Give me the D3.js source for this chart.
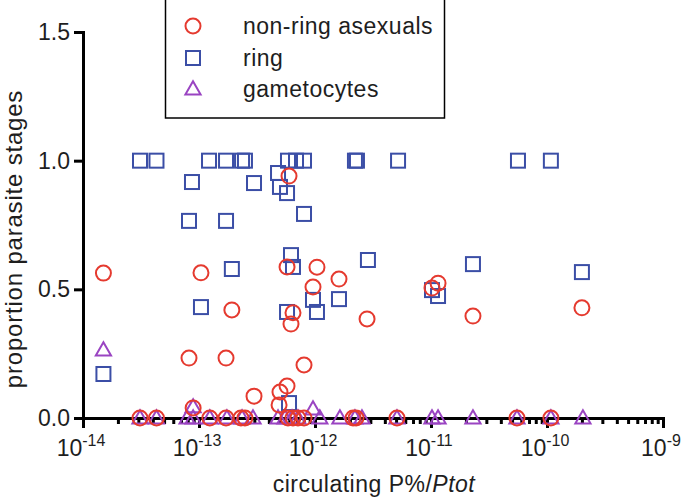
<!DOCTYPE html>
<html>
<head>
<meta charset="utf-8">
<script src="https://cdn.jsdelivr.net/npm/d3@7"></script>
<style>
  body { margin: 0; background: #fff; }
  svg { font-family: "Liberation Sans", Arial, sans-serif; }
</style>
</head>
<body>
<script>
// values (x = circulating P%/Ptot, y = proportion)
const nonRingX = [5.97e-13, 1.5e-14, 1.04e-13, 5.74e-13, 1.04e-12, 1.61e-12, 9.61e-13, 1.92e-13, 6.46e-13, 6.21e-13,
  2.81e-12, 8.2e-14, 1.71e-13, 8.04e-13, 2.98e-13, 5.74e-13, 4.99e-13, 4.9e-13, 8.9e-14, 1.15e-11,
  1.02e-11, 2.3e-11, 2.0e-10,
  3.1e-14, 4.3e-14, 1.24e-13, 1.71e-13, 2.3e-13, 2.49e-13, 5.85e-13, 6.46e-13, 7.13e-13, 8.04e-13,
  2.13e-12, 2.26e-12, 5.09e-12, 5.51e-11, 1.08e-10];
const nonRingY = [0.94, 0.563, 0.564, 0.587, 0.586, 0.54, 0.509, 0.42, 0.409, 0.365,
  0.385, 0.233, 0.233, 0.206, 0.085, 0.124, 0.101, 0.051, 0.039, 0.524,
  0.505, 0.396, 0.428,
  0, 0, 0, 0, 0, 0, 0, 0, 0, 0,
  0, 0, 0, 0, 0];

const ringX = [3.1e-14, 4.3e-14, 1.22e-13, 1.71e-13, 2.35e-13, 2.49e-13, 5.85e-13, 6.86e-13, 8.04e-13, 2.21e-12,
  2.3e-12, 5.2e-12, 5.62e-11, 1.08e-10, 8.7e-14, 2.98e-13, 4.8e-13, 4.99e-13, 5.74e-13, 8.04e-13,
  8.2e-14, 1.71e-13, 6.21e-13, 6.46e-13, 2.86e-12, 1.92e-13, 1.04e-13, 5.74e-13, 9.61e-13, 1.04e-12,
  1.61e-12, 1.5e-14, 5.97e-13, 2.3e-11, 2.0e-10, 1.02e-11, 1.15e-11];
const ringY = [1, 1, 1, 1, 1, 1, 1, 1, 1, 1,
  1, 1, 1, 1, 0.917, 0.913, 0.952, 0.898, 0.874, 0.793,
  0.766, 0.766, 0.633, 0.587, 0.614, 0.579, 0.431, 0.412, 0.459, 0.412,
  0.462, 0.171, 0.058, 0.598, 0.567, 0.497, 0.474];

const gametoX = [1.5e-14, 8.9e-14, 9.61e-13,
  3.1e-14, 4.3e-14, 7.9e-14, 8.9e-14, 1.24e-13, 1.74e-13, 2.35e-13, 2.92e-13, 4.8e-13, 5.51e-13,
  6.34e-13, 7.13e-13, 1.1e-12, 1.64e-12, 2.21e-12, 2.54e-12, 5.09e-12, 1.02e-11, 1.15e-11, 2.3e-11,
  5.51e-11, 1.08e-10, 2.04e-10];
const gametoY = [0.264, 0.043, 0.035,
  0, 0, 0, 0, 0, 0, 0, 0, 0, 0,
  0, 0, 0, 0, 0, 0, 0, 0, 0, 0,
  0, 0, 0];

const xExponents = [-14, -13, -12, -11, -10, -9];
const yTicks = [0, 0.5, 1.0, 1.5];
const legendLabels = ["non-ring asexuals", "ring", "gametocytes"];

const width = 685, height = 501;
const red = "#e53a2f", blue = "#3b4ea6", purple = "#9a44c2";
const ink = "#1e1e1e";

const svg = d3.select("body").append("svg")
  .attr("width", width)
  .attr("height", height);

const x = d3.scaleLog().domain([1e-14, 1e-9]).range([83, 663]);
const y = d3.scaleLinear().domain([0, 1.5]).range([418, 32]);

// minor ticks on x
const minors = [];
xExponents.slice(0, -1).forEach(e => {
  for (let k = 2; k <= 9; k++) minors.push(k * Math.pow(10, e));
});

const xMinor = svg.append("g")
  .attr("transform", `translate(0,${y(0)})`)
  .call(d3.axisBottom(x).tickValues(minors).tickSize(6).tickSizeOuter(0).tickFormat(""));
xMinor.select(".domain").remove();
xMinor.selectAll("line").attr("stroke-width", 3);

const xAxis = svg.append("g")
  .attr("transform", `translate(0,${y(0)})`)
  .call(d3.axisBottom(x).tickValues(xExponents.map(e => Math.pow(10, e))).tickSize(10).tickSizeOuter(0).tickFormat(""));
xAxis.select(".domain").attr("stroke-width", 3).attr("stroke-linecap", "square");
xAxis.selectAll("line").attr("stroke-width", 3);

// x tick labels with superscripts
const xLab = svg.append("g");
xExponents.forEach(e => {
  const t = xLab.append("text")
    .attr("x", x(Math.pow(10, e)) - 2)
    .attr("y", 456)
    .attr("text-anchor", "middle")
    .attr("font-size", 23)
    .attr("fill", ink);
  t.append("tspan").text("10");
  t.append("tspan").attr("font-size", 16).attr("dy", -10).text(String(e));
});

const yAxis = svg.append("g")
  .attr("transform", `translate(${x(1e-14)},0)`)
  .call(d3.axisLeft(y).tickValues(yTicks).tickSize(9).tickSizeOuter(0).tickPadding(4).tickFormat(d3.format(".1f")));
yAxis.select(".domain").attr("stroke-width", 3).attr("stroke-linecap", "square");
yAxis.selectAll("line").attr("stroke-width", 3);
yAxis.selectAll("text").attr("font-size", 23).attr("fill", ink)
  .attr("font-family", "Liberation Sans, Arial, sans-serif");

// axis titles
svg.append("text")
  .attr("x", 374)
  .attr("y", 492)
  .attr("text-anchor", "middle")
  .attr("font-size", 23)
  .attr("letter-spacing", 0.5)
  .attr("fill", ink)
  .call(t => {
    t.append("tspan").text("circulating P%/");
    t.append("tspan").attr("font-style", "italic").text("Ptot");
  });

svg.append("text")
  .attr("transform", "rotate(-90)")
  .attr("x", -239)
  .attr("y", 22)
  .attr("text-anchor", "middle")
  .attr("font-size", 24)
  .attr("letter-spacing", 0.8)
  .attr("fill", ink)
  .text("proportion parasite stages");

// markers
const circleR = 7.5, sq = 14;
const tri = d3.symbol().type(d3.symbolTriangle).size(100);

svg.append("g").selectAll("rect")
  .data(d3.zip(ringX, ringY))
  .join("rect")
  .attr("x", d => x(d[0]) - sq / 2)
  .attr("y", d => y(d[1]) - sq / 2)
  .attr("width", sq)
  .attr("height", sq)
  .attr("fill", "none")
  .attr("stroke", blue)
  .attr("stroke-width", 2);

svg.append("g").selectAll("path")
  .data(d3.zip(gametoX, gametoY))
  .join("path")
  .attr("d", tri)
  .attr("transform", d => `translate(${x(d[0])},${y(d[1]) + 1})`)
  .attr("fill", "none")
  .attr("stroke", purple)
  .attr("stroke-width", 2);

svg.append("g").selectAll("circle")
  .data(d3.zip(nonRingX, nonRingY))
  .join("circle")
  .attr("cx", d => x(d[0]))
  .attr("cy", d => y(d[1]))
  .attr("r", circleR)
  .attr("fill", "none")
  .attr("stroke", red)
  .attr("stroke-width", 2);

// legend
const legend = svg.append("g");
legend.append("rect")
  .attr("x", 165.5)
  .attr("y", -2)
  .attr("width", 279)
  .attr("height", 120)
  .attr("fill", "#fff")
  .attr("stroke", "#000")
  .attr("stroke-width", 1.5);

const legendY = [26, 58, 89];
legend.append("circle")
  .attr("cx", 193).attr("cy", legendY[0]).attr("r", circleR)
  .attr("fill", "none").attr("stroke", red).attr("stroke-width", 2);
legend.append("rect")
  .attr("x", 193 - sq / 2).attr("y", legendY[1] - sq / 2).attr("width", sq).attr("height", sq)
  .attr("fill", "none").attr("stroke", blue).attr("stroke-width", 2);
legend.append("path")
  .attr("d", tri)
  .attr("transform", `translate(193,${legendY[2] + 1})`)
  .attr("fill", "none").attr("stroke", purple).attr("stroke-width", 2);

legendLabels.forEach((l, i) => {
  legend.append("text")
    .attr("x", 243)
    .attr("y", legendY[i] + 8)
    .attr("font-size", 23)
    .attr("letter-spacing", 0.5)
    .attr("fill", ink)
    .text(l);
});
</script>
</body>
</html>
